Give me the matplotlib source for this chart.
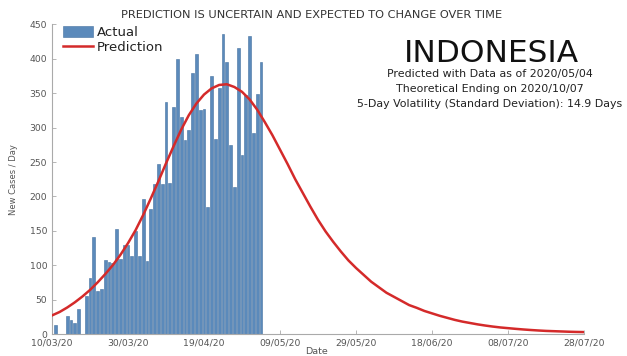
import matplotlib
matplotlib.use("Agg")
import matplotlib.pyplot as plt
import pandas as pd

# Daily new cases (reported), one value per day starting 11 March 2020
actual_start = "2020-03-11"
actual_cases = [13, 0, 0, 26, 20, 16, 37, 0, 55, 82,
                141, 63, 65, 107, 104, 103, 153, 109, 130, 129,
                114, 149, 113, 196, 106, 181, 218, 247, 218, 337,
                219, 330, 399, 316, 282, 297, 380, 407, 325, 327,
                185, 375, 283, 357, 436, 396, 275, 214, 415, 260,
                347, 433, 292, 349, 395]

# Predicted daily new cases, one value every 2 days starting 10 March 2020
prediction_start = "2020-03-10"
prediction_step = "2D"
prediction_cases = [27, 32, 38.5, 46, 54.5, 64, 75, 87, 100, 115,
                    132, 151, 173, 197, 222, 248, 273, 297, 318, 335,
                    348, 357, 362, 363, 359, 352, 341, 326, 308, 289,
                    268, 247, 225, 205, 185, 166, 149, 134, 120, 107,
                    96, 86, 76, 68, 60, 54, 48, 42, 38, 33.5,
                    30, 26.5, 23.5, 20.5, 18, 16, 14, 12.3, 10.8, 9.5,
                    8.5, 7.5, 6.6, 5.8, 5.1, 4.5, 4.1, 3.7, 3.3, 3.0,
                    2.8]

tick_dates = ["2020-03-10", "2020-03-30", "2020-04-19", "2020-05-09",
              "2020-05-29", "2020-06-18", "2020-07-08", "2020-07-28"]
tick_labels = ["10/03/20", "30/03/20", "19/04/20", "09/05/20",
               "29/05/20", "18/06/20", "08/07/20", "28/07/20"]
y_ticks = [0, 50, 100, 150, 200, 250, 300, 350, 400, 450]

country = "INDONESIA"
info_lines = ["Predicted with Data as of 2020/05/04",
              "Theoretical Ending on 2020/10/07",
              "5-Day Volatility (Standard Deviation): 14.9 Days"]
title = "PREDICTION IS UNCERTAIN AND EXPECTED TO CHANGE OVER TIME"

plt.rcParams["font.family"] = ["DejaVu Sans"]

actual_dates = pd.date_range(actual_start, periods=len(actual_cases), freq="D")
pred_dates = pd.date_range(prediction_start, periods=len(prediction_cases), freq=prediction_step)

fig = plt.figure(figsize=(6.27, 3.56), dpi=100)
ax = fig.add_axes([52 / 627, 22 / 356, 532 / 627, 309.6 / 356])

bars = ax.bar(actual_dates, actual_cases, width=0.72, color="#5b8abb",
              edgecolor="#44709f", linewidth=0.4, label="Actual", zorder=2)
line, = ax.plot(pred_dates, prediction_cases, color="#d42a2a", linewidth=1.8,
                label="Prediction", zorder=3)

ax.set_xlim(pd.Timestamp(tick_dates[0]), pd.Timestamp(tick_dates[-1]))
ax.set_ylim(0, 450)
ax.set_xticks(pd.to_datetime(tick_dates))
ax.set_xticklabels(tick_labels)
ax.set_yticks(y_ticks)
ax.set_yticklabels([str(v) for v in y_ticks])

for side in ("top", "right"):
    ax.spines[side].set_visible(False)
for side in ("left", "bottom"):
    ax.spines[side].set_color("#aaaaaa")
    ax.spines[side].set_linewidth(0.8)
ax.tick_params(direction="in", length=3, width=0.6, color="#aaaaaa",
               labelsize=6.7, labelcolor="#555555", pad=3.5)

ax.set_ylabel("New Cases / Day", fontsize=6, color="#555555", labelpad=8)
ax.set_xlabel("Date", fontsize=6.8, color="#555555")
ax.xaxis.label.set_verticalalignment("bottom")
ax.xaxis.set_label_coords(0.5 + (317 - 318) / 532, -21.5 / 309.6)

leg = ax.legend([bars, line], ["Actual", "Prediction"], loc="upper left",
                bbox_to_anchor=(0.005, 1.02), frameon=False,
                fontsize=9.5, handlelength=2.3, handleheight=0.8,
                handletextpad=0.3, labelspacing=0.15, borderaxespad=0.2)
for t in leg.get_texts():
    t.set_color("#222222")

fig.text(312 / 627, 1 - 15 / 356, title, ha="center", va="center",
         fontsize=8.2, color="#333333")
fig.text(491 / 627, 1 - 53 / 356, country, ha="center", va="center",
         fontsize=22.5, color="#111111")
for i, txt in enumerate(info_lines):
    fig.text(490 / 627, 1 - (73.5 + 15.2 * i) / 356, txt, ha="center",
             va="center", fontsize=7.9, color="#222222")

fig.savefig("out.png", dpi=100)
